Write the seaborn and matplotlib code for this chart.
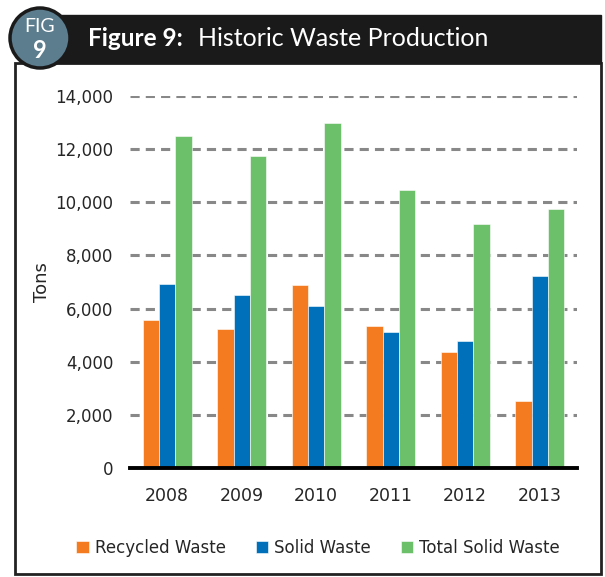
import numpy as np
import pandas as pd
import matplotlib
matplotlib.use("Agg")
import matplotlib.pyplot as plt
import matplotlib.patches as mpatches
import seaborn as sns

# values
years = ["2008", "2009", "2010", "2011", "2012", "2013"]
recycled = [5570, 5220, 6890, 5340, 4370, 2520]
solid = [6930, 6500, 6090, 5110, 4770, 7230]
total = [12500, 11730, 12970, 10450, 9170, 9750]
series_names = ["Recycled Waste", "Solid Waste", "Total Solid Waste"]
colors = ["#F47B20", "#0070BA", "#6CC06A"]

df = pd.DataFrame({
    "Year": years * 3,
    "Tons": recycled + solid + total,
    "Series": [s for s in series_names for _ in years],
})

sns.set_style("white")
plt.rcParams["font.family"] = ["Liberation Sans Narrow", "DejaVu Sans"]

W, H = 605, 577
fig = plt.figure(figsize=(W / 100, H / 100), dpi=100)

def fx(px):
    return px / W

def fy(py):
    return 1 - py / H

ax = fig.add_axes([fx(130), fy(468), fx(577) - fx(130), fy(96) - fy(468)])
sns.barplot(data=df, x="Year", y="Tons", hue="Series", palette=colors,
            saturation=1, width=0.66, ax=ax, edgecolor="white", linewidth=0.4)

ax.set_ylim(0, 14000)
ax.set_yticks(range(0, 14001, 2000))
ax.set_yticklabels([f"{v:,}" for v in range(0, 14001, 2000)], fontsize=12)
ax.set_xticklabels(years, fontsize=12.5)
ax.tick_params(length=0, pad=12)
ax.tick_params(axis="x", pad=14)
ax.set_xlabel("")
ax.set_ylabel("Tons", fontsize=13, labelpad=3)
ax.yaxis.grid(True, linestyle=(0, (3, 2)), color="#888888", linewidth=2.2)
ax.set_axisbelow(True)
for s in ["top", "left", "right"]:
    ax.spines[s].set_visible(False)
ax.spines["bottom"].set_color("black")
ax.spines["bottom"].set_linewidth(2.8)

handles, labels = ax.get_legend_handles_labels()
ax.get_legend().remove()
fig.legend(handles, labels, loc="center", bbox_to_anchor=(fx(318), fy(548)),
           ncol=3, frameon=False, fontsize=12, handlelength=0.75,
           handleheight=0.75, handletextpad=0.35, columnspacing=1.8)

# header and frame
ov = fig.add_axes([0, 0, 1, 1], zorder=-1)
ov.set_xlim(0, W)
ov.set_ylim(H, 0)
ov.axis("off")
ov.add_patch(mpatches.Rectangle((15, 63), 586, 511, fill=False,
                                edgecolor="#222222", linewidth=2))
ov.add_patch(mpatches.Rectangle((50, 15), 551, 48, color="#1a1a1a"))

top = fig.add_axes([0, 0, 1, 1], zorder=5)
top.set_xlim(0, W)
top.set_ylim(H, 0)
top.axis("off")
top.patch.set_alpha(0)
top.add_patch(mpatches.Circle((40, 38), 30, facecolor="#5B7D8E",
                              edgecolor="#1a1a1a", linewidth=2.5))
top.text(40, 26, "FIG", color="white", fontsize=14, ha="center", va="center",
         family=["Lato", "DejaVu Sans"])
top.text(40, 50, "9", color="white", fontsize=17, ha="center", va="center",
         fontweight="bold", family=["Lato", "DejaVu Sans"])
top.text(88, 39, "Figure 9:", color="white", fontsize=17.5, ha="left",
         va="center", fontweight="bold", family=["Lato", "DejaVu Sans"])
top.text(198, 39, "Historic Waste Production", color="white", fontsize=18,
         ha="left", va="center", family=["Lato", "DejaVu Sans"])

fig.savefig("out.png", dpi=100)
